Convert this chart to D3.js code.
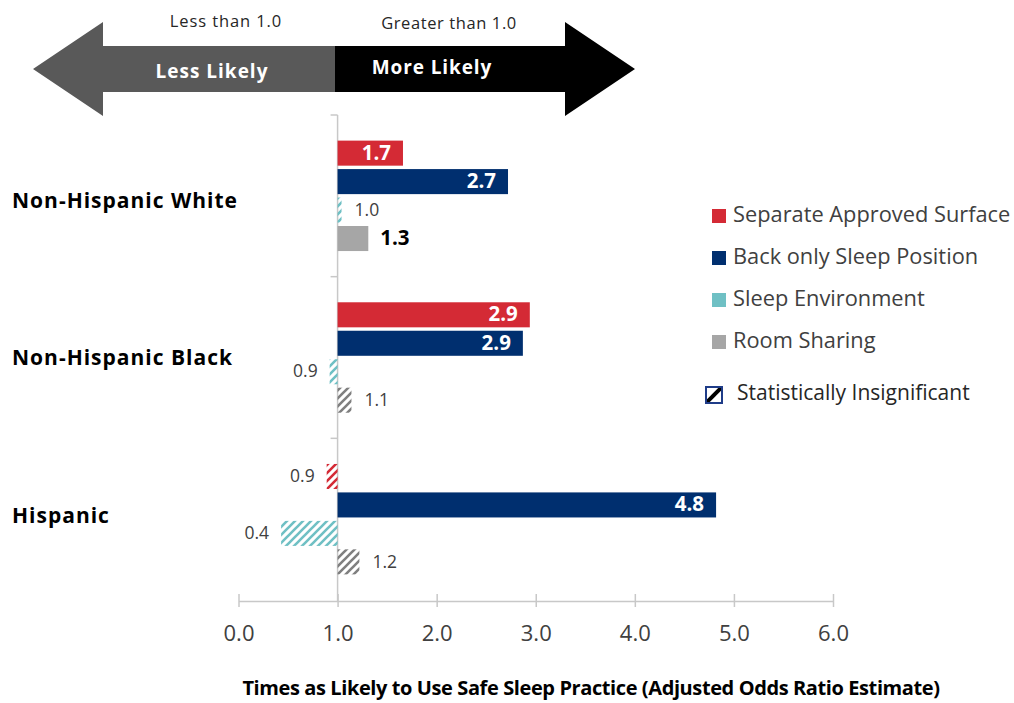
<!DOCTYPE html>
<html><head><meta charset="utf-8">
<script src="https://cdn.jsdelivr.net/npm/d3@7"></script>
<style>body{margin:0;background:#fff}svg{display:block;font-family:"Open Sans",sans-serif}</style>
</head><body>
<svg id="c" width="1014" height="703"></svg>
<script>
const categories = ["Non-Hispanic White", "Non-Hispanic Black", "Hispanic"];
const seriesNames = ["Separate Approved Surface", "Back only Sleep Position", "Sleep Environment", "Room Sharing"];
const separateValues = [1.66, 2.94, 0.89];
const backValues = [2.72, 2.87, 4.82];
const environmentValues = [1.04, 0.92, 0.43];
const roomValues = [1.31, 1.14, 1.22];
const separateSig = [true, true, false];
const backSig = [true, true, true];
const environmentSig = [false, false, false];
const roomSig = [true, false, false];
const xTicks = [0, 1, 2, 3, 4, 5, 6];
const colors = ["#D42A35", "#002F6F", "#6FC0C4", "#A6A6A6"];
const hatchColors = ["#D42A35", "#002F6F", "#6FC0C4", "#7F7F7F"];

const seriesVals = [separateValues, backValues, environmentValues, roomValues];
const seriesSig = [separateSig, backSig, environmentSig, roomSig];
const data = [];
categories.forEach((c, ci) => seriesNames.forEach((s, si) => data.push({cat: c, ser: s, si, v: seriesVals[si][ci], sig: seriesSig[si][ci]})));

const svg = d3.select("#c");
const defs = svg.append("defs");
hatchColors.forEach((col, i) => {
  const p = defs.append("pattern").attr("id", "h" + i).attr("patternUnits", "userSpaceOnUse")
    .attr("width", 8).attr("height", 8);
  p.append("path").attr("d", "M-2,2 l4,-4 M0,8 l8,-8 M6,10 l4,-4")
    .attr("stroke", col).attr("stroke-width", 2.6);
});
const lp = defs.append("pattern").attr("id", "hl").attr("patternUnits", "userSpaceOnUse")
  .attr("x", 706).attr("y", 387).attr("width", 16).attr("height", 16);
lp.append("path").attr("d", "M0,16 L16,0").attr("stroke", "#000").attr("stroke-width", 4);

// Top double arrow
const ay = 69;
svg.append("path").attr("d", `M33,${ay} L103,${ay-47} L103,${ay-23} L336,${ay-23} L336,${ay+23} L103,${ay+23} L103,${ay+47} Z`).attr("fill", "#595959");
svg.append("path").attr("d", `M635,${ay} L565,${ay-47} L565,${ay-23} L335,${ay-23} L335,${ay+23} L565,${ay+23} L565,${ay+47} Z`).attr("fill", "#000");
svg.append("text").attr("x", 226).attr("y", 23).attr("text-anchor", "middle").attr("dominant-baseline", "middle")
  .attr("font-size", 16.5).attr("letter-spacing", 0.9).attr("fill", "#262626").text("Less than 1.0");
svg.append("text").attr("x", 449).attr("y", 25).attr("text-anchor", "middle").attr("dominant-baseline", "middle")
  .attr("font-size", 16.5).attr("letter-spacing", 0.6).attr("fill", "#262626").text("Greater than 1.0");
svg.append("text").attr("x", 212).attr("y", 73).attr("text-anchor", "middle").attr("dominant-baseline", "middle")
  .attr("font-size", 19).attr("letter-spacing", 1).attr("font-weight", "bold").attr("fill", "#fff").text("Less Likely");
svg.append("text").attr("x", 432).attr("y", 69).attr("text-anchor", "middle").attr("dominant-baseline", "middle")
  .attr("font-size", 19).attr("letter-spacing", 0.9).attr("font-weight", "bold").attr("fill", "#fff").text("More Likely");

const x = d3.scaleLinear().domain([0, 6]).range([238.5, 833]);
const y0 = d3.scaleBand().domain(categories).range([115, 600]);
const y1 = d3.scaleBand().domain(seriesNames).range([0, y0.bandwidth()]).paddingInner(0.12).paddingOuter(0.9);
const yLabel = d3.scalePoint().domain(categories).range([202, 517]);

// x axis
const axisY = 601;
const gx = svg.append("g").attr("transform", `translate(0,${axisY})`)
  .call(d3.axisBottom(x).tickValues(xTicks).tickFormat(d3.format(".1f")).tickSizeOuter(0).tickSizeInner(6));
gx.select(".domain").attr("stroke", "#C8C8C8").attr("stroke-width", 1.5);
gx.selectAll(".tick line").attr("y1", -7).attr("y2", 6).attr("stroke", "#C8C8C8").attr("stroke-width", 1.5);
gx.selectAll(".tick text").attr("y", 32).attr("dy", "0.35em").attr("font-size", 22)
  .attr("font-family", "Open Sans").attr("fill", "#404040");

// baseline at 1.0
const bx = x(1);
svg.append("line").attr("x1", bx).attr("x2", bx).attr("y1", 115).attr("y2", axisY).attr("stroke", "#C8C8C8").attr("stroke-width", 1.5);
categories.forEach(c => {
  svg.append("line").attr("x1", bx - 7).attr("x2", bx).attr("y1", y0(c)).attr("y2", y0(c)).attr("stroke", "#C8C8C8").attr("stroke-width", 1.5);
});

// category labels
svg.selectAll(".cat").data(categories).join("text").attr("x", 12)
  .attr("y", d => yLabel(d)).attr("dominant-baseline", "middle")
  .attr("font-size", 21).attr("letter-spacing", 1).attr("font-weight", "bold").attr("fill", "#000").text(d => d);

// bars
const fmt = d3.format(".1f");
svg.selectAll(".bar").data(data).join("rect")
  .attr("x", d => Math.min(x(d.v), bx)).attr("width", d => Math.abs(x(d.v) - bx))
  .attr("y", d => y0(d.cat) + y1(d.ser)).attr("height", y1.bandwidth())
  .attr("fill", d => d.sig ? colors[d.si] : `url(#h${d.si})`);

svg.selectAll(".lbl").data(data).join("text")
  .each(function(d) {
    const t = d3.select(this);
    const w = Math.abs(x(d.v) - bx);
    const yc = y0(d.cat) + y1(d.ser) + y1.bandwidth() / 2 + 1;
    t.attr("y", yc).attr("dominant-baseline", "middle").text(fmt(d.v));
    if (d.sig && w > 50) {
      t.attr("x", x(d.v) - 12).attr("text-anchor", "end").attr("font-size", 20.5).attr("font-weight", "bold").attr("fill", "#fff");
    } else if (d.sig) {
      t.attr("x", x(d.v) + 12).attr("text-anchor", "start").attr("font-size", 20.5).attr("font-weight", "bold").attr("fill", "#000");
    } else if (d.v >= 1) {
      t.attr("x", x(d.v) + 13).attr("text-anchor", "start").attr("font-size", 17.5).attr("fill", "#404040");
    } else {
      t.attr("x", x(d.v) - 12).attr("text-anchor", "end").attr("font-size", 17.5).attr("fill", "#404040");
    }
  });

// legend
const lg = svg.append("g");
seriesNames.forEach((s, i) => {
  const ly = 216 + i * 42;
  lg.append("rect").attr("x", 712).attr("y", ly - 7).attr("width", 14).attr("height", 14).attr("fill", colors[i]);
  lg.append("text").attr("x", 733).attr("y", ly).attr("dominant-baseline", "middle").attr("font-size", 21.8).attr("fill", "#404040").text(s);
});
lg.append("rect").attr("x", 706).attr("y", 387).attr("width", 16).attr("height", 16).attr("fill", "url(#hl)")
  .attr("stroke", "#1F3C88").attr("stroke-width", 2);
lg.append("text").attr("x", 737).attr("y", 394).attr("dominant-baseline", "middle").attr("font-size", 21).attr("fill", "#262626").text("Statistically Insignificant");

// axis title
svg.append("text").attr("x", 591).attr("y", 690).attr("text-anchor", "middle").attr("dominant-baseline", "middle")
  .attr("font-size", 20).attr("letter-spacing", -0.4).attr("font-weight", "bold").attr("fill", "#000")
  .text("Times as Likely to Use Safe Sleep Practice (Adjusted Odds Ratio Estimate)");
</script>
</body></html>
